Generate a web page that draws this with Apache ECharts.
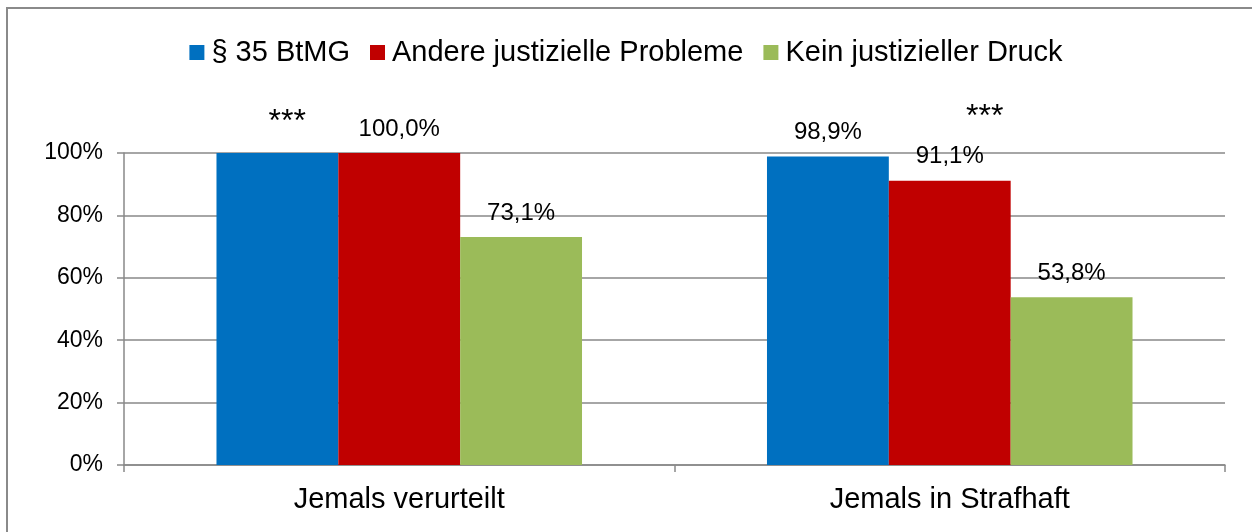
<!DOCTYPE html>
<html>
<head>
<meta charset="utf-8">
<script src="https://cdn.jsdelivr.net/npm/echarts@6/dist/echarts.min.js"></script>
<style>
	html, body { margin: 0; padding: 0; background: #fff; }
	#chart { width: 1252px; height: 532px; }
</style>
</head>
<body>
<div id="chart"></div>
<script>
const categories = ["Jemals verurteilt", "Jemals in Strafhaft"];
const seriesNames = ["§ 35 BtMG", "Andere justizielle Probleme", "Kein justizieller Druck"];
const btmgValues = [100, 98.9];
const andereValues = [100, 91.1];
const keinValues = [73.1, 53.8];
const btmgLabelShown = [false, true];
const sigTexts = ["***", "***"];
const colours = ["#0070C0", "#C00000", "#9BBB59"];

const gridColour = "#898989";
const fontFamily = "'Liberation Sans', Arial, sans-serif";

function fmtPercent(v) {
	return v.toFixed(1).replace(".", ",") + "%";
}

function makeSeries(name, values, colour, shown) {
	return {
		name: name,
		type: "bar",
		barGap: 0,
		barCategoryGap: "33.6%",
		itemStyle: { color: colour },
		label: {
			show: true,
			position: "top",
			distance: 12,
			fontSize: 24,
			fontFamily: fontFamily,
			color: "#000",
			formatter: (p) => fmtPercent(p.value),
		},
		data: values.map((v, i) => ({
			value: v,
			label: { show: shown ? shown[i] : true },
		})),
	};
}

const chartDom = document.getElementById("chart");
const myChart = echarts.init(chartDom);

const option = {
	animation: false,
	textStyle: { fontFamily: fontFamily },
	legend: {
		top: 33,
		left: "center",
		icon: "rect",
		itemWidth: 15,
		itemHeight: 15,
		itemGap: 20,
		textStyle: { fontSize: 29, color: "#000", padding: [0, 0, 0, 2] },
		data: seriesNames,
	},
	grid: { left: 124, right: 27, top: 153, bottom: 67 },
	xAxis: {
		type: "category",
		data: categories,
		axisLine: { lineStyle: { color: gridColour, width: 1.5 } },
		axisTick: { show: true, length: 7, lineStyle: { color: gridColour, width: 1.5 } },
		axisLabel: { fontSize: 29, color: "#000", margin: 20 },
	},
	yAxis: {
		type: "value",
		min: 0,
		max: 100,
		interval: 20,
		axisLine: { show: true, lineStyle: { color: gridColour, width: 1.5 } },
		axisTick: { show: true, length: 7, lineStyle: { color: gridColour, width: 1.5 } },
		splitLine: { lineStyle: { color: gridColour, width: 1.5 } },
		axisLabel: { fontSize: 23, color: "#000", margin: 21, formatter: "{value}%" },
	},
	series: [
		makeSeries(seriesNames[0], btmgValues, colours[0], btmgLabelShown),
		makeSeries(seriesNames[1], andereValues, colours[1]),
		makeSeries(seriesNames[2], keinValues, colours[2]),
	],
};
myChart.setOption(option);

// significance marks, placed relative to each category's centre
const sigOffsets = [[-112, -31], [35, -36]];
const sigGraphics = sigTexts.map((t, i) => {
	const pt = myChart.convertToPixel({ gridIndex: 0 }, [i, 100]);
	return {
		type: "text",
		x: pt[0] + sigOffsets[i][0],
		y: pt[1] + sigOffsets[i][1],
		style: {
			text: t,
			fontSize: 32,
			fontFamily: fontFamily,
			fill: "#000",
			align: "center",
			verticalAlign: "middle",
		},
	};
});

myChart.setOption({
	graphic: [
		{
			type: "rect",
			shape: { x: 7, y: 8, width: 1400, height: 700 },
			style: { fill: "none", stroke: "#8a8a8a", lineWidth: 2 },
			silent: true,
		},
	].concat(sigGraphics),
});
</script>
</body>
</html>
